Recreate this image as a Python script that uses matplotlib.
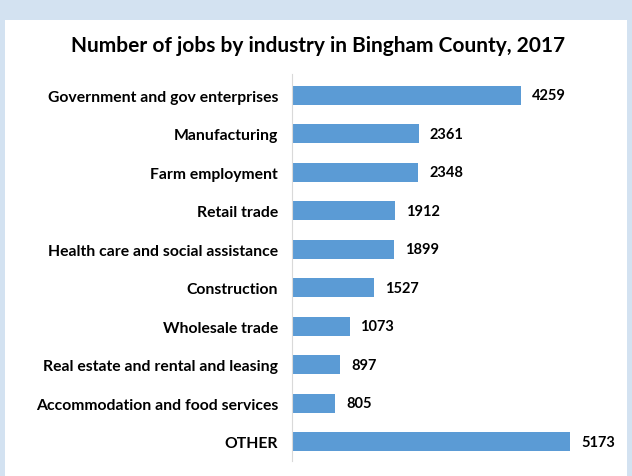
import matplotlib.pyplot as plt
from matplotlib.patches import Rectangle

industries = [
    "Government and gov enterprises",
    "Manufacturing",
    "Farm employment",
    "Retail trade",
    "Health care and social assistance",
    "Construction",
    "Wholesale trade",
    "Real estate and rental and leasing",
    "Accommodation and food services",
    "OTHER",
]
jobs = [4259, 2361, 2348, 1912, 1899, 1527, 1073, 897, 805, 5173]

plt.rcParams["font.family"] = ["Lato", "DejaVu Sans"]

W, H = 632, 477
fig = plt.figure(figsize=(W / 100, H / 100), dpi=100)
fig.patch.set_facecolor("#d3e2f1")
# white panel
fig.add_artist(Rectangle((5 / W, 0), (627 - 5) / W, (H - 21) / H,
                         transform=fig.transFigure, facecolor="white",
                         edgecolor="none", zorder=0))

ax = fig.add_axes([292 / W, 15 / H, (600 - 292) / W, (462 - 75) / H])
ax.set_facecolor("none")
y = list(range(len(industries)))
ax.barh(y, jobs, height=0.5, color="#5b9bd5")
ax.set_ylim(len(industries) - 0.5, -0.55)
ax.set_xlim(0, 308 / (229 / 4259))

for yi, v in zip(y, jobs):
    ax.text(v + 200, yi, str(v), va="center", ha="left",
            fontsize=10.5, fontweight="bold", color="black")

ax.set_yticks(y)
ax.set_yticklabels(industries, fontsize=11.3, fontweight="bold")
ax.tick_params(axis="y", length=0, pad=10)
ax.set_xticks([])
for s in ["top", "right", "bottom"]:
    ax.spines[s].set_visible(False)
ax.spines["left"].set_color("#d9d9d9")

fig.text(318 / W, 1 - 46 / H, "Number of jobs by industry in Bingham County, 2017",
         ha="center", va="center", fontsize=15, fontweight="bold")

fig.savefig("out.png", dpi=100)
